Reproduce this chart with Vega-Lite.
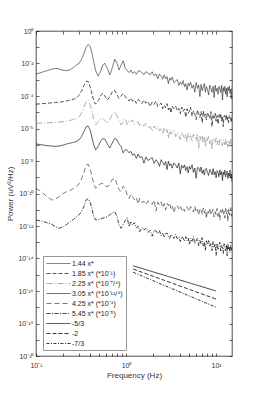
{
"$schema": "https://vega.github.io/schema/vega-lite/v6.json",
"width": 196, "height": 325,
"autosize": {"type": "none"},
"padding": {"left": 36, "top": 31, "right": 26, "bottom": 45},
"background": "white",
"config": {
 "view": {"stroke": "#000", "strokeWidth": 0.7},
 "font": "Liberation Sans",
 "axis": {"domain": false, "grid": false, "tickColor": "#000", "tickSize": -3, "tickWidth": 0.6, "labelFont": "Liberation Sans", "labelFontSize": 7, "labelColor": "#333", "titleFont": "Liberation Sans", "titleFontSize": 8, "titleFontWeight": "normal", "titleColor": "#333"}
},
"datasets": {
"spectra": [
{"f":0.1,"a":-2.65,"b":-4.5,"c":-5.68,"d":-6.95,"e":-9.68,"g":-11.63},
{"f":0.115,"a":-2.55,"b":-4.48,"c":-5.66,"d":-7.0,"e":-9.9,"g":-11.7},
{"f":0.13,"a":-2.45,"b":-4.45,"c":-5.65,"d":-7.05,"e":-10.15,"g":-11.78},
{"f":0.15,"a":-2.35,"b":-4.42,"c":-5.63,"d":-7.08,"e":-10.4,"g":-11.9},
{"f":0.165,"a":-2.3,"b":-4.4,"c":-5.62,"d":-7.1,"e":-10.35,"g":-12.05},
{"f":0.18,"a":-2.33,"b":-4.38,"c":-5.6,"d":-7.08,"e":-10.2,"g":-12.14},
{"f":0.2,"a":-2.42,"b":-4.35,"c":-5.58,"d":-7.02,"e":-10.0,"g":-12.05},
{"f":0.22,"a":-2.44,"b":-4.3,"c":-5.55,"d":-6.95,"e":-9.88,"g":-11.9},
{"f":0.24,"a":-2.38,"b":-4.25,"c":-5.5,"d":-6.9,"e":-9.8,"g":-11.72},
{"f":0.26,"a":-2.25,"b":-4.2,"c":-5.45,"d":-6.85,"e":-9.7,"g":-11.6},
{"f":0.28,"a":-2.1,"b":-4.15,"c":-5.4,"d":-6.8,"e":-9.58,"g":-11.45},
{"f":0.3,"a":-1.99,"b":-3.95,"c":-5.3,"d":-6.7,"e":-9.4,"g":-11.32},
{"f":0.32,"a":-1.75,"b":-3.7,"c":-5.05,"d":-6.5,"e":-9.1,"g":-11.1},
{"f":0.34,"a":-1.4,"b":-3.35,"c":-4.7,"d":-6.2,"e":-8.7,"g":-10.8},
{"f":0.36,"a":-1.0,"b":-3.1,"c":-4.35,"d":-5.9,"e":-8.25,"g":-10.4},
{"f":0.38,"a":-0.82,"b":-3.1,"c":-4.28,"d":-5.85,"e":-8.2,"g":-10.32},
{"f":0.4,"a":-0.95,"b":-3.45,"c":-4.55,"d":-6.1,"e":-8.5,"g":-10.55},
{"f":0.42,"a":-1.4,"b":-3.9,"c":-5.0,"d":-6.6,"e":-9.0,"g":-11.0},
{"f":0.44,"a":-1.95,"b":-4.35,"c":-5.5,"d":-7.05,"e":-9.45,"g":-11.45},
{"f":0.46,"a":-2.45,"b":-4.5,"c":-5.78,"d":-7.32,"e":-9.68,"g":-11.63},
{"f":0.49,"a":-2.77,"b":-4.3,"c":-5.6,"d":-7.1,"e":-9.5,"g":-11.6},
{"f":0.52,"a":-2.5,"b":-4.0,"c":-5.4,"d":-6.8,"e":-9.4,"g":-11.55},
{"f":0.55,"a":-2.1,"b":-3.83,"c":-5.37,"d":-6.62,"e":-9.38,"g":-11.52},
{"f":0.58,"a":-1.99,"b":-4.0,"c":-5.5,"d":-6.65,"e":-9.5,"g":-11.48},
{"f":0.62,"a":-2.3,"b":-4.25,"c":-5.68,"d":-6.95,"e":-9.6,"g":-11.43},
{"f":0.66,"a":-2.7,"b":-4.05,"c":-5.45,"d":-7.2,"e":-9.4,"g":-11.3},
{"f":0.7,"a":-2.3,"b":-3.75,"c":-5.15,"d":-6.9,"e":-9.15,"g":-11.2},
{"f":0.75,"a":-1.74,"b":-3.65,"c":-4.97,"d":-6.6,"e":-9.06,"g":-11.12},
{"f":0.79,"a":-1.95,"b":-3.9,"c":-5.2,"d":-6.7,"e":-9.4,"g":-11.4},
{"f":0.835,"a":-2.4,"b":-4.14,"c":-5.55,"d":-6.95,"e":-9.75,"g":-11.9},
{"f":0.88,"a":-2.1,"b":-4.0,"c":-5.78,"d":-7.1,"e":-9.89,"g":-12.14},
{"f":0.93,"a":-1.83,"b":-3.85,"c":-5.6,"d":-7.5,"e":-9.55,"g":-11.9},
{"f":0.98,"a":-2.3,"b":-4.05,"c":-5.4,"d":-7.3,"e":-9.7,"g":-11.65},
{"f":1.03,"a":-2.43,"b":-4.2,"c":-5.75,"d":-7.34,"e":-10.07,"g":-11.49},
{"f":1.08,"a":-2.56,"b":-4.31,"c":-5.49,"d":-7.5,"e":-10.31,"g":-12.04},
{"f":1.13,"a":-2.4,"b":-4.12,"c":-5.61,"d":-7.4,"e":-10.03,"g":-11.71},
{"f":1.18,"a":-2.61,"b":-4.32,"c":-5.47,"d":-7.64,"e":-10.2,"g":-11.9},
{"f":1.24,"a":-2.5,"b":-4.24,"c":-5.72,"d":-7.57,"e":-10.38,"g":-11.8},
{"f":1.3,"a":-2.67,"b":-4.45,"c":-5.65,"d":-7.84,"e":-10.24,"g":-12.13},
{"f":1.36,"a":-2.48,"b":-4.22,"c":-5.59,"d":-7.57,"e":-10.65,"g":-12.0},
{"f":1.42,"a":-2.44,"b":-4.3,"c":-5.86,"d":-7.79,"e":-10.3,"g":-12.35},
{"f":1.5,"a":-2.58,"b":-4.46,"c":-5.71,"d":-7.73,"e":-10.56,"g":-12.11},
{"f":1.58,"a":-2.69,"b":-4.25,"c":-5.85,"d":-8.13,"e":-10.48,"g":-12.25},
{"f":1.66,"a":-2.5,"b":-4.44,"c":-5.67,"d":-7.75,"e":-10.69,"g":-12.12},
{"f":1.75,"a":-2.59,"b":-4.33,"c":-5.98,"d":-7.97,"e":-10.45,"g":-12.39},
{"f":1.85,"a":-2.7,"b":-4.65,"c":-5.87,"d":-7.88,"e":-10.54,"g":-12.27},
{"f":1.95,"a":-2.51,"b":-4.38,"c":-6.17,"d":-7.79,"e":-10.68,"g":-12.63},
{"f":2.05,"a":-2.75,"b":-4.51,"c":-5.85,"d":-8.15,"e":-10.41,"g":-12.27},
{"f":2.15,"a":-2.64,"b":-4.32,"c":-6.02,"d":-7.92,"e":-11.07,"g":-12.3},
{"f":2.25,"a":-2.94,"b":-4.64,"c":-5.86,"d":-8.06,"e":-10.54,"g":-12.48},
{"f":2.35,"a":-2.65,"b":-4.53,"c":-6.15,"d":-8.33,"e":-10.72,"g":-12.29},
{"f":2.45,"a":-2.76,"b":-4.44,"c":-6.02,"d":-7.92,"e":-10.52,"g":-12.6},
{"f":2.55,"a":-2.97,"b":-4.78,"c":-6.34,"d":-8.08,"e":-10.87,"g":-12.46},
{"f":2.65,"a":-2.7,"b":-4.56,"c":-5.94,"d":-8.26,"e":-10.62,"g":-12.7},
{"f":2.75,"a":-2.94,"b":-4.73,"c":-6.21,"d":-8.03,"e":-11.02,"g":-12.47},
{"f":2.85,"a":-2.81,"b":-4.47,"c":-6.07,"d":-8.53,"e":-10.61,"g":-12.43},
{"f":2.95,"a":-3.24,"b":-4.85,"c":-6.59,"d":-8.01,"e":-10.76,"g":-12.63},
{"f":3.05,"a":-2.89,"b":-4.67,"c":-6.07,"d":-8.29,"e":-10.58,"g":-12.77},
{"f":3.15,"a":-3.03,"b":-5.05,"c":-6.35,"d":-8.17,"e":-10.92,"g":-12.51},
{"f":3.25,"a":-2.84,"b":-4.62,"c":-6.22,"d":-8.44,"e":-10.73,"g":-12.62},
{"f":3.4,"a":-3.18,"b":-4.78,"c":-6.09,"d":-8.12,"e":-11.19,"g":-12.76},
{"f":3.55,"a":-3.08,"b":-4.63,"c":-6.5,"d":-8.25,"e":-10.74,"g":-12.51},
{"f":3.7,"a":-2.99,"b":-4.91,"c":-6.27,"d":-8.43,"e":-10.76,"g":-12.79},
{"f":3.85,"a":-3.35,"b":-4.77,"c":-6.41,"d":-8.13,"e":-10.94,"g":-12.67},
{"f":4.0,"a":-3.14,"b":-5.09,"c":-6.68,"d":-8.79,"e":-10.74,"g":-12.95},
{"f":4.15,"a":-3.3,"b":-4.69,"c":-6.26,"d":-8.27,"e":-11.03,"g":-12.65},
{"f":4.3,"a":-3.05,"b":-4.94,"c":-6.41,"d":-8.44,"e":-10.88,"g":-12.74},
{"f":4.45,"a":-3.43,"b":-4.8,"c":-6.59,"d":-8.24,"e":-11.1,"g":-12.94},
{"f":4.6,"a":-3.25,"b":-5.31,"c":-6.34,"d":-8.59,"e":-10.85,"g":-12.65},
{"f":4.75,"a":-3.64,"b":-4.79,"c":-6.84,"d":-8.35,"e":-10.8,"g":-12.89},
{"f":4.9,"a":-3.22,"b":-5.06,"c":-6.31,"d":-8.74,"e":-10.99,"g":-12.74},
{"f":5.05,"a":-3.37,"b":-4.92,"c":-6.58,"d":-8.33,"e":-11.11,"g":-13.15},
{"f":5.2,"a":-3.15,"b":-4.69,"c":-6.44,"d":-8.5,"e":-10.8,"g":-12.76},
{"f":5.4,"a":-3.52,"b":-5.25,"c":-6.81,"d":-8.23,"e":-10.95,"g":-12.94},
{"f":5.6,"a":-3.32,"b":-4.91,"c":-6.35,"d":-8.7,"e":-11.14,"g":-12.65},
{"f":5.8,"a":-3.76,"b":-5.1,"c":-6.51,"d":-8.44,"e":-10.77,"g":-13.09},
{"f":6.0,"a":-3.18,"b":-5.45,"c":-6.75,"d":-9.06,"e":-11.14,"g":-12.9},
{"f":6.2,"a":-3.53,"b":-4.86,"c":-6.32,"d":-8.41,"e":-10.97,"g":-12.75},
{"f":6.4,"a":-3.32,"b":-5.07,"c":-7.23,"d":-8.42,"e":-11.34,"g":-13.21},
{"f":6.6,"a":-4.03,"b":-5.32,"c":-6.48,"d":-8.65,"e":-10.9,"g":-12.89},
{"f":6.8,"a":-3.29,"b":-4.96,"c":-6.72,"d":-8.37,"e":-11.03,"g":-13.1},
{"f":7.0,"a":-3.67,"b":-5.65,"c":-6.43,"d":-8.77,"e":-11.3,"g":-12.72},
{"f":7.2,"a":-3.45,"b":-4.91,"c":-6.91,"d":-8.55,"e":-10.89,"g":-13.24},
{"f":7.4,"a":-3.24,"b":-5.28,"c":-6.56,"d":-8.87,"e":-11.2,"g":-12.98},
{"f":7.6,"a":-3.77,"b":-5.1,"c":-7.1,"d":-8.52,"e":-10.98,"g":-13.51},
{"f":7.8,"a":-3.42,"b":-5.48,"c":-6.53,"d":-8.45,"e":-11.55,"g":-12.91},
{"f":8.0,"a":-3.6,"b":-5.01,"c":-6.74,"d":-8.72,"e":-11.03,"g":-13.12},
{"f":8.25,"a":-3.94,"b":-5.16,"c":-6.47,"d":-8.89,"e":-11.21,"g":-12.9},
{"f":8.5,"a":-3.33,"b":-5.4,"c":-6.93,"d":-8.51,"e":-10.9,"g":-13.28},
{"f":8.75,"a":-3.53,"b":-4.96,"c":-6.66,"d":-8.66,"e":-11.33,"g":-13.08},
{"f":9.0,"a":-3.77,"b":-5.88,"c":-7.29,"d":-8.85,"e":-11.14,"g":-13.52},
{"f":9.25,"a":-3.41,"b":-5.13,"c":-6.63,"d":-8.47,"e":-10.98,"g":-12.95},
{"f":9.5,"a":-4.09,"b":-5.36,"c":-6.64,"d":-8.84,"e":-11.44,"g":-13.3},
{"f":9.75,"a":-3.34,"b":-5.07,"c":-6.87,"d":-8.66,"e":-11.11,"g":-13.09},
{"f":10.0,"a":-3.71,"b":-5.55,"c":-6.58,"d":-9.03,"e":-11.31,"g":-13.81},
{"f":10.25,"a":-3.52,"b":-5.2,"c":-6.98,"d":-8.59,"e":-10.92,"g":-13.06},
{"f":10.5,"a":-3.89,"b":-5.73,"c":-6.75,"d":-8.7,"e":-11.41,"g":-13.43},
{"f":10.75,"a":-3.41,"b":-5.15,"c":-7.07,"d":-8.97,"e":-11.13,"g":-13.21},
{"f":11.0,"a":-3.55,"b":-5.35,"c":-6.71,"d":-8.55,"e":-11.64,"g":-13.0},
{"f":11.25,"a":-3.78,"b":-5.08,"c":-6.63,"d":-8.86,"e":-11.02,"g":-13.53},
{"f":11.5,"a":-3.34,"b":-5.54,"c":-6.9,"d":-8.65,"e":-11.21,"g":-13.18},
{"f":11.75,"a":-4.24,"b":-5.26,"c":-7.06,"d":-9.21,"e":-10.96,"g":-13.36},
{"f":12.0,"a":-3.48,"b":-5.88,"c":-6.68,"d":-8.69,"e":-11.32,"g":-13.69},
{"f":12.25,"a":-3.71,"b":-5.21,"c":-6.82,"d":-8.86,"e":-11.1,"g":-13.09},
{"f":12.5,"a":-3.41,"b":-5.22,"c":-7.0,"d":-8.56,"e":-11.51,"g":-13.29},
{"f":12.75,"a":-3.88,"b":-5.44,"c":-6.61,"d":-8.98,"e":-10.92,"g":-13.52},
{"f":13.0,"a":-3.52,"b":-5.15,"c":-6.98,"d":-8.79,"e":-11.25,"g":-13.16},
{"f":13.25,"a":-4.05,"b":-5.54,"c":-6.79,"d":-8.62,"e":-11.03,"g":-13.83},
{"f":13.5,"a":-3.47,"b":-5.31,"c":-7.15,"d":-9.07,"e":-11.72,"g":-13.09},
{"f":13.75,"a":-3.67,"b":-5.63,"c":-6.71,"d":-8.75,"e":-10.96,"g":-13.45},
{"f":14.0,"a":-3.39,"b":-5.27,"c":-6.82,"d":-8.94,"e":-11.33,"g":-13.27},
{"f":14.25,"a":-3.84,"b":-5.19,"c":-7.09,"d":-8.56,"e":-11.1,"g":-13.64},
{"f":14.5,"a":-3.57,"b":-5.45,"c":-6.67,"d":-9.06,"e":-10.87,"g":-13.16},
{"f":14.75,"a":-4.18,"b":-5.62,"c":-6.98,"d":-8.79,"e":-11.4,"g":-13.31},
{"f":15.0,"a":-3.51,"b":-5.23,"c":-6.76,"d":-9.3,"e":-11.04,"g":-13.54}
],
"refs": [
{"f":1.2,"v":-14.45,"key":"r1"},{"f":10,"v":-16.0,"key":"r1"},
{"f":1.2,"v":-14.65,"key":"r2"},{"f":10,"v":-16.5,"key":"r2"},
{"f":1.2,"v":-14.85,"key":"r3"},{"f":10,"v":-17.0,"key":"r3"}
]
},
"resolve": {"axis": {"x": "independent", "y": "independent"}},
"layer": [
{
 "data": {"name": "spectra"},
 "transform": [{"fold": ["a","b","c","d","e","g"], "as": ["key","v"]}],
 "mark": {"type": "line", "clip": true},
 "encoding": {
  "x": {"field": "f", "type": "quantitative", "scale": {"type": "log", "domain": [0.1, 15], "nice": false},
        "axis": {"orient": "bottom", "values": [0.1,0.2,0.3,0.4,0.5,0.6,0.7,0.8,0.9,1,2,3,4,5,6,7,8,9,10], "labelExpr": "datum.value==0.1?'10⁻¹':datum.value==1?'10⁰':datum.value==10?'10¹':''", "labelPadding": 8, "title": "Frequency (Hz)", "titlePadding": 3, "labelFlush": false, "labelOverlap": false}},
  "y": {"field": "v", "type": "quantitative", "scale": {"domain": [-20, 0], "nice": false, "zero": false},
        "axis": {"orient": "left", "values": [0,-1,-2,-3,-4,-5,-6,-7,-8,-9,-10,-11,-12,-13,-14,-15,-16,-17,-18,-19,-20], "labelExpr": "datum.value==0?'10⁰':datum.value==-2?'10⁻²':datum.value==-4?'10⁻⁴':datum.value==-6?'10⁻⁶':datum.value==-8?'10⁻⁸':datum.value==-10?'10⁻¹⁰':datum.value==-12?'10⁻¹²':datum.value==-14?'10⁻¹⁴':datum.value==-16?'10⁻¹⁶':datum.value==-18?'10⁻¹⁸':datum.value==-20?'10⁻²⁰':''", "labelPadding": 6, "title": "Power (uV²/Hz)", "titlePadding": 3, "labelFlush": false, "labelOverlap": false}},
  "color": {"field": "key", "type": "nominal", "scale": {"domain": ["a","b","c","d","e","g","r1","r2","r3"], "range": ["#222","#000","#888","#111","#444","#000","#000","#000","#000"]},
            "legend": {"title": null, "orient": "none", "legendX": 7, "legendY": 225, "symbolType": "M-1,0H5", "symbolSize": 64, "labelFontSize": 7, "labelFont": "Liberation Sans", "labelColor": "#222", "strokeColor": "#999", "fillColor": "#fff", "padding": 3, "rowPadding": 2, "labelOffset": 17,
              "labelExpr": "datum.value=='a'?'1.44 x*':datum.value=='b'?'1.85 x* (*10⁻¹)':datum.value=='c'?'2.25 x* (*10⁻⁷/⁴)':datum.value=='d'?'3.05 x* (*10⁻¹¹/⁴)':datum.value=='e'?'4.25 x* (*10⁻⁴)':datum.value=='g'?'5.45 x* (*10⁻⁵)':datum.value=='r1'?'-5/3':datum.value=='r2'?'-2':'-7/3'"}},
  "strokeDash": {"field": "key", "type": "nominal", "scale": {"domain": ["a","b","c","d","e","g","r1","r2","r3"], "range": [[1,0],[4,2],[6,2,1,2],[1,0],[5,3],[4,1.5,1,1.5],[1,0],[4,2],[3,1.5,1,1.5]]}},
  "strokeWidth": {"field": "key", "type": "nominal", "scale": {"domain": ["a","b","c","d","e","g","r1","r2","r3"], "range": [0.65,0.8,0.65,0.65,0.65,0.75,1.3,1.3,1.3]}}
 }
},
{
 "data": {"name": "refs"},
 "mark": {"type": "line"},
 "encoding": {
  "x": {"field": "f", "type": "quantitative", "axis": {"orient": "top", "values": [0.1,0.2,0.3,0.4,0.5,0.6,0.7,0.8,0.9,1,2,3,4,5,6,7,8,9,10], "labels": false, "title": null}},
  "y": {"field": "v", "type": "quantitative", "axis": {"orient": "right", "values": [0,-1,-2,-3,-4,-5,-6,-7,-8,-9,-10,-11,-12,-13,-14,-15,-16,-17,-18,-19,-20], "labels": false, "title": null}},
  "color": {"field": "key", "type": "nominal"},
  "strokeDash": {"field": "key", "type": "nominal"},
  "strokeWidth": {"field": "key", "type": "nominal"}
 }
}
]
}
